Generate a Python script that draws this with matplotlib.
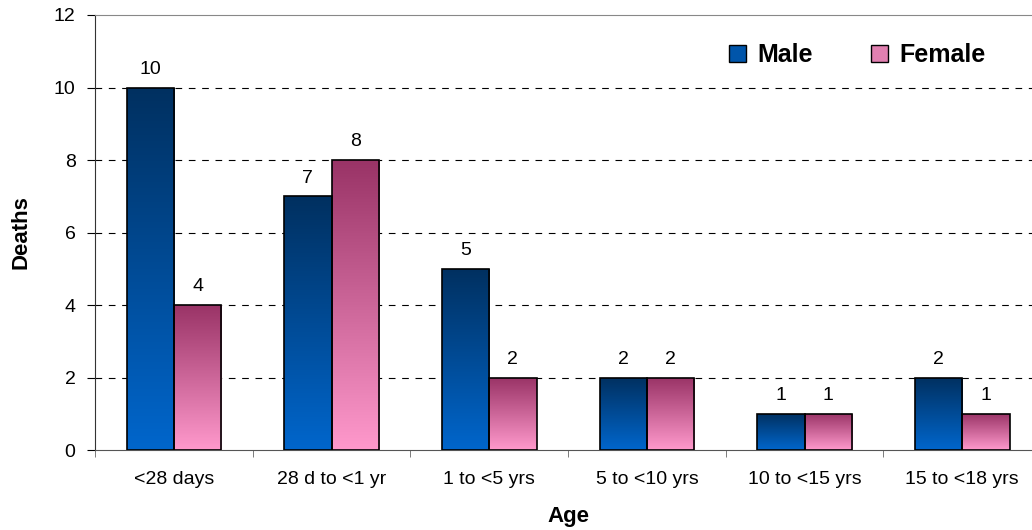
import numpy as np
import matplotlib
matplotlib.use("Agg")
import matplotlib.pyplot as plt
from matplotlib.colors import LinearSegmentedColormap
from matplotlib.patches import Patch

plt.rcParams['font.family'] = ['Liberation Sans', 'DejaVu Sans']

categories = ["<28 days", "28 d to <1 yr", "1 to <5 yrs", "5 to <10 yrs",
              "10 to <15 yrs", "15 to <18 yrs"]
male = [10, 7, 5, 2, 1, 2]
female = [4, 8, 2, 2, 1, 1]
y_ticks = [0, 2, 4, 6, 8, 10, 12]

male_cmap = LinearSegmentedColormap.from_list("male", ["#0066cc", "#003060"])
female_cmap = LinearSegmentedColormap.from_list("female", ["#ff99cc", "#993366"])

fig = plt.figure(figsize=(10.32, 5.30), dpi=100)
ax = fig.add_axes([0.0921, 0.1509, 0.9167, 0.8208])

x = np.arange(len(categories))
w = 0.30
bars_m = ax.bar(x - w / 2, male, width=w, facecolor="none", edgecolor="black", linewidth=1.2, zorder=4)
bars_f = ax.bar(x + w / 2, female, width=w, facecolor="none", edgecolor="black", linewidth=1.2, zorder=4)

grad = np.linspace(0, 1, 256).reshape(-1, 1)
for bars, cmap in ((bars_m, male_cmap), (bars_f, female_cmap)):
    for b in bars:
        x0, y0 = b.get_x(), b.get_y()
        bw, bh = b.get_width(), b.get_height()
        im = ax.imshow(grad, cmap=cmap, aspect="auto", origin="lower",
                       extent=(x0, x0 + bw, y0, y0 + bh), zorder=3)
        im.set_clip_path(b)
        ax.annotate(f"{int(bh)}", (x0 + bw / 2, y0 + bh), xytext=(0, 7),
                    textcoords="offset points", ha="center", va="bottom", fontsize=14)

ax.set_xlim(-0.5, len(categories) - 0.5)
ax.set_ylim(0, 12)
ax.set_yticks(y_ticks)
ax.set_xticks(x)
ax.set_xticklabels(categories)
ax.set_xticks(np.arange(len(categories) + 1) - 0.5, minor=True)
ax.tick_params(axis="x", which="major", length=0, pad=15, labelsize=14)
ax.tick_params(axis="x", which="minor", length=5, color="#666666")
ax.tick_params(axis="y", length=6, labelsize=14, pad=8)

for yv in y_ticks[1:-1]:
    ax.axhline(yv, color="black", linestyle=(0, (6, 6)), linewidth=0.8, zorder=1)

ax.spines["top"].set_color("#888888")
ax.spines["right"].set_visible(False)
ax.spines["left"].set_color("#333333")
ax.spines["bottom"].set_color("#555555")

ax.set_xlabel("Age", fontsize=16, fontweight="bold", labelpad=13)
ax.set_ylabel("Deaths", fontsize=16, fontweight="bold", labelpad=16)

handles = [Patch(facecolor="#0055aa", edgecolor="black", label="Male"),
           Patch(facecolor="#e080b0", edgecolor="black", label="Female")]
fig.legend(handles=handles, loc="center right", bbox_to_anchor=(998 / 1032, 1 - 55 / 530),
           ncol=2, frameon=False, prop={"weight": "bold", "size": 18}, borderpad=0,
           handlelength=0.7, handleheight=0.7, handletextpad=0.45, columnspacing=2.3)

fig.savefig("out.png", dpi=100)
